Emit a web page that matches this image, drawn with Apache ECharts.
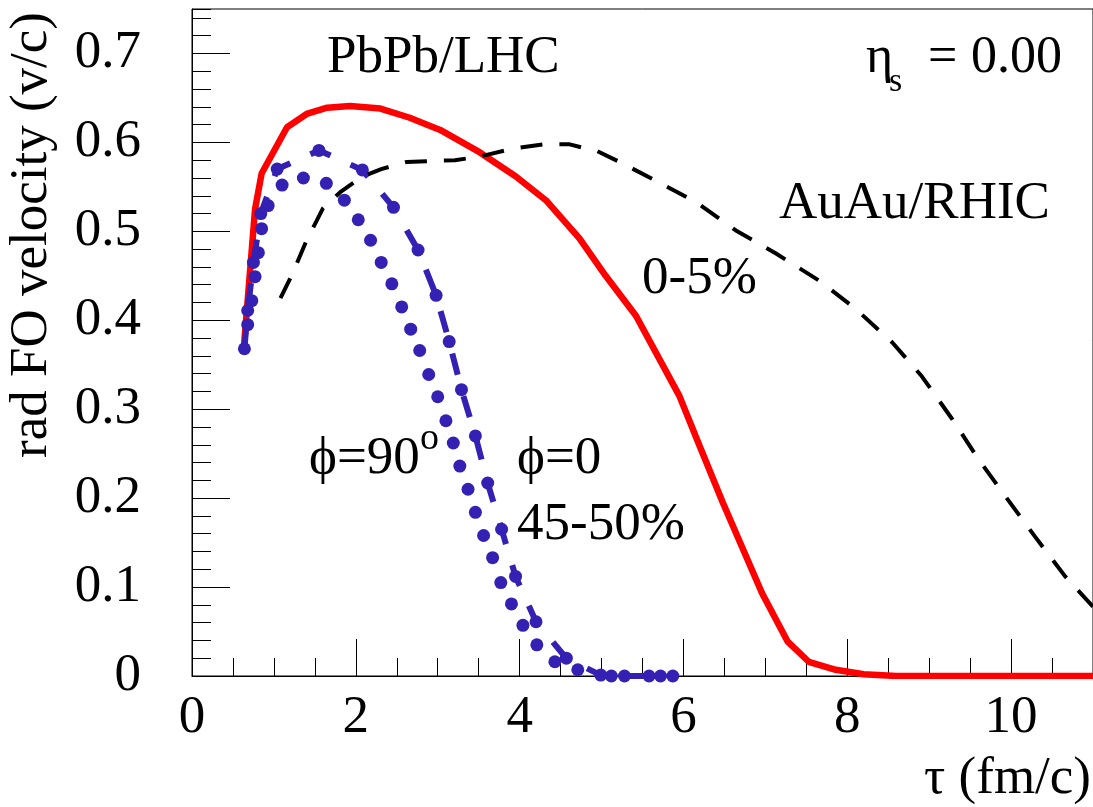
<!DOCTYPE html>
<html><head><meta charset="utf-8">
<script src="https://cdn.jsdelivr.net/npm/echarts@6/dist/echarts.min.js"></script>
<style>html,body{margin:0;padding:0;background:#fff}#c{width:1093px;height:807px}</style>
</head><body><div id="c"></div>
<script>
// PbPb/LHC 0-5% (red solid)
const pbpbCentral = [[0.63,0.366],[0.77,0.525],[0.85,0.565],[1.16,0.617],[1.40,0.632],[1.65,0.639],[1.93,0.641],[2.30,0.638],[2.65,0.628],[3.03,0.614],[3.51,0.589],[3.95,0.562],[4.32,0.535],[4.73,0.492],[5.05,0.450],[5.42,0.405],[5.95,0.315],[6.20,0.258],[6.48,0.195],[6.96,0.093],[7.27,0.039],[7.53,0.016],[7.86,0.007],[8.2,0.002],[8.6,0],[11,0]];
// AuAu/RHIC (black dashed)
const auauRhic = [[1.08,0.425],[1.22,0.451],[1.40,0.490],[1.60,0.526],[1.81,0.544],[2.07,0.561],[2.31,0.570],[2.62,0.578],[2.90,0.579],[3.21,0.580],[3.51,0.584],[3.92,0.593],[4.30,0.598],[4.60,0.598],[4.95,0.590],[5.22,0.578],[5.62,0.559],[6.15,0.533],[6.64,0.501],[7.13,0.475],[7.65,0.445],[8.10,0.413],[8.55,0.375],[8.91,0.337],[9.28,0.289],[9.60,0.244],[9.93,0.202],[10.29,0.157],[10.66,0.112],[11.0,0.078]];
// PbPb 45-50%, phi = 0 (blue dash with dots)
const pbpbPhi0 = [[0.64,0.368],[0.68,0.411],[0.75,0.465],[0.84,0.520],[1.04,0.570],[1.55,0.591],[2.08,0.569],[2.46,0.527],[2.76,0.479],[2.98,0.428],[3.14,0.376],[3.29,0.322],[3.46,0.270],[3.61,0.217],[3.78,0.165],[3.95,0.112],[4.20,0.061],[4.57,0.020],[4.99,0.001],[5.28,0],[5.58,0],[5.87,0]];
// PbPb 45-50%, phi = 90 deg (blue dots)
const pbpbPhi90 = [[0.68,0.395],[0.73,0.422],[0.77,0.449],[0.81,0.476],[0.85,0.503],[0.93,0.529],[1.10,0.552],[1.36,0.560],[1.64,0.554],[1.86,0.535],[2.03,0.513],[2.18,0.490],[2.31,0.465],[2.44,0.441],[2.56,0.415],[2.67,0.390],[2.78,0.366],[2.89,0.339],[3.00,0.314],[3.10,0.287],[3.19,0.262],[3.27,0.236],[3.37,0.210],[3.46,0.184],[3.56,0.158],[3.67,0.133],[3.77,0.105],[3.90,0.081],[4.04,0.057],[4.21,0.035],[4.43,0.016],[4.71,0.007],[5.12,0],[5.72,0]];

const xRange = [0, 11];
const yRange = [0, 0.75];
const xMajor = 2, xMinor = 0.5;
const yMajor = 0.1, yMinor = 0.02;

const FONT = '"Liberation Serif","Times New Roman",serif';
const BLUE = '#3421b3';
const chart = echarts.init(document.getElementById('c'), null, {renderer: 'canvas'});

function label(text, x, y, size, align, extra) {
  return Object.assign({
    type: 'text', x: x, y: y, z: 100, silent: true,
    style: {text: text, fontFamily: FONT, fontSize: size, fill: '#000', align: align || 'left', verticalAlign: 'middle'}
  }, extra || {});
}

const tickStyle = {color: '#000', width: 1};

const option = {
  animation: false,
  grid: {left: 192, top: 9, width: 903, height: 667, show: true, borderColor: '#000', borderWidth: 1, backgroundColor: '#fff'},
  xAxis: [
    {type: 'value', min: xRange[0], max: xRange[1], interval: xMajor,
     axisLine: {show: true, lineStyle: {color: '#000', width: 1}},
     axisTick: {show: true, inside: true, length: 37, lineStyle: tickStyle},
     axisLabel: {fontFamily: FONT, fontSize: 53, color: '#000', margin: 16, showMaxLabel: false},
     splitLine: {show: false}},
    {type: 'value', min: xRange[0], max: xRange[1], interval: xMinor, position: 'bottom',
     axisLine: {show: false}, axisTick: {show: true, inside: true, length: 18, lineStyle: tickStyle},
     axisLabel: {show: false}, splitLine: {show: false}}
  ],
  yAxis: [
    {type: 'value', min: yRange[0], max: yRange[1], interval: yMajor,
     axisLine: {show: true, lineStyle: {color: '#000', width: 1}},
     axisTick: {show: true, inside: true, length: 38, lineStyle: tickStyle},
     axisLabel: {fontFamily: FONT, fontSize: 53, color: '#000', margin: 51, showMaxLabel: false},
     splitLine: {show: false}},
    {type: 'value', min: yRange[0], max: yRange[1], interval: yMinor, position: 'left',
     axisLine: {show: false}, axisTick: {show: true, inside: true, length: 19, lineStyle: tickStyle},
     axisLabel: {show: false}, splitLine: {show: false}}
  ],
  series: [
    {type: 'line', name: 'PbPb 0-5%', data: pbpbCentral, showSymbol: false, silent: true,
     lineStyle: {color: '#ff0000', width: 6.5}, z: 2},
    {type: 'scatter', name: 'phi=90', data: pbpbPhi90, symbol: 'circle', symbolSize: 13, silent: true,
     itemStyle: {color: BLUE, opacity: 1, borderWidth: 0}, z: 3},
    {type: 'line', name: 'phi=0', data: pbpbPhi0, symbol: 'circle', symbolSize: 13, showSymbol: true, showAllSymbol: true, silent: true,
     itemStyle: {color: BLUE, opacity: 1, borderWidth: 0}, lineStyle: {color: BLUE, width: 6, type: [22, 22]}, z: 4},
    {type: 'line', name: 'AuAu/RHIC', data: auauRhic, showSymbol: false, silent: true,
     lineStyle: {color: '#000', width: 4, type: [22, 17]}, z: 5}
  ],
  graphic: [
    label('PbPb/LHC', 327, 58, 53),
    label('\u03b7', 866, 58, 52),
    label('s', 889, 82, 34),
    label('=', 928, 58, 52),
    label('0.00', 1062, 58, 52, 'right'),
    label('AuAu/RHIC', 779, 204, 53),
    label('0-5%', 642, 279, 53),
    label('\u03d5=90', 309, 459, 53),
    label('o', 420, 439, 38),
    label('\u03d5=0', 517, 459, 53),
    label('45-50%', 517, 525, 53),
    label('\u03c4 (fm/c)', 1091, 779, 53, 'right'),
    label('rad FO velocity (v/c)', 32, 235, 53, 'center', {rotation: Math.PI / 2})
  ]
};
chart.setOption(option);
</script></body></html>
